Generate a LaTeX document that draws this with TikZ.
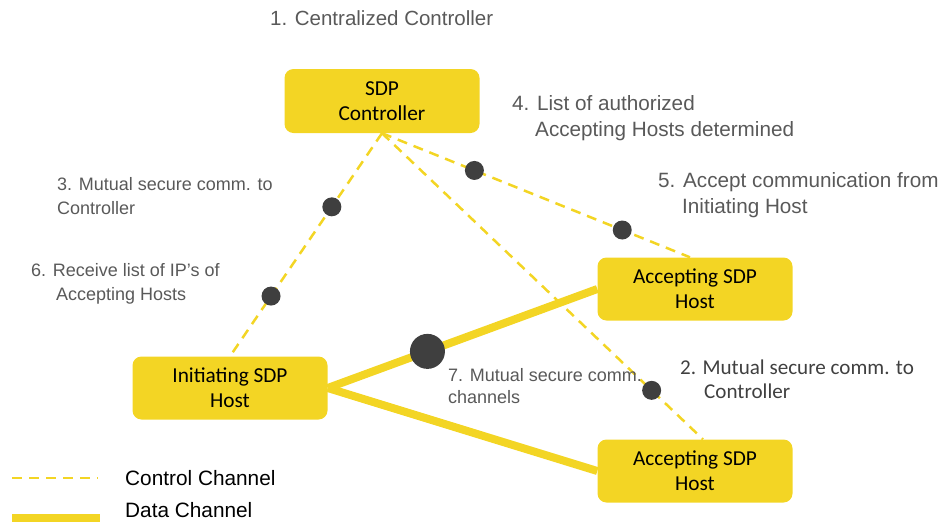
\documentclass[tikz,border=0pt]{standalone}
\usepackage{fontspec}
\setmainfont{Liberation Sans}
\newfontfamily\boxfont{Carlito}
\usetikzlibrary{calc}
\definecolor{sdpyellow}{HTML}{F3D524}
\definecolor{dotgrey}{HTML}{3F3F3F}
\definecolor{labgrey}{HTML}{595959}
\definecolor{darkgrey}{HTML}{404040}
\tikzset{
  hostbox/.style={fill=sdpyellow, rounded corners=9pt, minimum width=195pt, minimum height=63pt, align=center, inner sep=0pt, text=black, font=\boxfont\fontsize{21.3}{25}\selectfont},
  ctrlline/.style={draw=sdpyellow, line width=2.5pt, dash pattern=on 10pt off 7pt},
  dataline/.style={draw=sdpyellow, line width=8pt},
  dot/.style={circle, fill=dotgrey, inner sep=0pt, minimum size=19pt},
  bigdot/.style={circle, fill=dotgrey, inner sep=0pt, minimum size=35pt},
  lab/.style={text=labgrey, font=\fontsize{20.7}{25.5}\selectfont, align=left, anchor=west, inner sep=0pt},
  labs/.style={text=labgrey, font=\fontsize{18}{23.5}\selectfont, align=left, anchor=west, inner sep=0pt},
  labc/.style={text=darkgrey, font=\boxfont\fontsize{21.1}{23.5}\selectfont, align=left, anchor=west, inner sep=0pt},
  legend/.style={text=black, font=\fontsize{20.8}{24}\selectfont, anchor=west, inner sep=0pt},
}

\begin{document}
\begin{tikzpicture}[x=1pt, y=-1pt]
  \useasboundingbox (0,0) rectangle (944,523);

  % hosts
  \node[hostbox, minimum height=64pt] (ctrl) at (382,101) {SDP\\Controller};
  \node[hostbox] (acc1) at (695,289) {Accepting SDP\\Host};
  \node[hostbox] (init) at (230,388) {Initiating SDP\\Host};
  \node[hostbox] (acc2) at (695,471) {Accepting SDP\\Host};

  % control channels
  \coordinate (hub) at (ctrl.south);
  \draw[ctrlline] (hub) -- (init.north)
    node[dot, pos=0.33] (d3) {} node[dot, pos=0.73] (d6) {};
  \draw[ctrlline] (hub) -- ([xshift=-5pt]acc1.north)
    node[dot, pos=0.3] (d4) {} node[dot, pos=0.78] (d5) {};
  \draw[ctrlline] (hub) -- ([xshift=8pt]acc2.north)
    node[dot, pos=0.84] (d2) {};

  % data channels
  \draw[dataline] (init.east) -- (acc1.west) node[bigdot, pos=0.37] (d7) {};
  \draw[dataline] (init.east) -- (acc2.west);

  % steps
  \node[lab, font=\fontsize{20.5}{25}\selectfont] (t1) at (270,18) {1. Centralized Controller};
  \node[labc] (t2) at (680,379) {2. Mutual secure comm. to\\\hspace*{24pt}Controller};
  \node[labs] (t3) at (57,196) {3. Mutual secure comm. to\\Controller};
  \node[lab] (t4) at (512,118) {4. List of authorized\\\hspace*{23pt}Accepting Hosts determined};
  \node[lab] (t5) at (658,195) {5. Accept communication from\\\hspace*{24pt}Initiating Host};
  \node[labs] (t6) at (31,284) {6. Receive list of IP's of\\\hspace*{25pt}Accepting Hosts};
  \node[labs, font=\fontsize{18}{22}\selectfont] (t7) at (448,386) {7. Mutual secure comm.\\channels};

  % legend
  \coordinate (lgc1) at (12,478);
  \coordinate (lgc2) at (98,478);
  \coordinate (lgd1) at (12,518);
  \coordinate (lgd2) at (100,518);
  \draw[ctrlline] (lgc1) -- (lgc2);
  \draw[dataline] (lgd1) -- (lgd2);
  \node[legend] (lgct) at (125,478) {Control Channel};
  \node[legend] (lgdt) at (125,510) {Data Channel};
\end{tikzpicture}
\end{document}
